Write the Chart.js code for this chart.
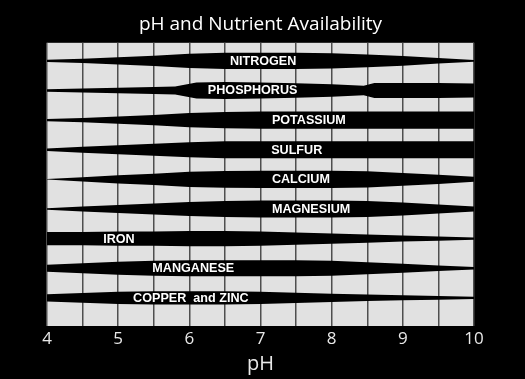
<!DOCTYPE html>
<html>
<head>
<meta charset="utf-8">
<script src="https://cdn.jsdelivr.net/npm/chart.js@4"></script>
<style>
  html, body { margin: 0; padding: 0; background: #000; }
  canvas { display: block; }
</style>
</head>
<body>
<canvas id="phChart" width="525" height="379"></canvas>
<script>
// pH grid (every half unit) and labelled ticks
const phSteps = [4, 4.5, 5, 5.5, 6, 6.5, 7, 7.5, 8, 8.5, 9, 9.5, 10];
const phLabels = [4, 5, 6, 7, 8, 9, 10];

// relative availability (1 = widest band)
const nitrogen   = [0.12, 0.24, 0.41, 0.59, 0.82, 0.94, 0.94, 0.94, 0.88, 0.74, 0.56, 0.32, 0.09];
const phosphorusPh = [4, 4.5, 5, 5.5, 5.8, 6.1, 6.5, 7, 7.5, 8, 8.45, 8.6, 9, 9.5, 10];
const phosphorus = [0.15, 0.24, 0.32, 0.41, 0.47, 0.94, 1.0, 0.94, 0.85, 0.74, 0.56, 0.88, 0.88, 0.88, 0.82];
const potassium  = [0.12, 0.26, 0.41, 0.59, 0.82, 0.94, 1, 1, 1, 1, 1, 1, 1];
const sulfur     = [0.14, 0.34, 0.53, 0.69, 0.88, 0.98, 1, 1, 1, 1, 1, 1, 1];
const calcium    = [0.03, 0.25, 0.47, 0.65, 0.88, 0.97, 1, 1, 1, 0.94, 0.74, 0.53, 0.29];
const magnesium  = [0.09, 0.29, 0.47, 0.65, 0.82, 0.94, 1, 1, 1, 0.94, 0.76, 0.53, 0.29];
const iron       = [0.76, 0.76, 0.82, 0.82, 0.88, 0.88, 0.82, 0.71, 0.59, 0.47, 0.35, 0.24, 0.12];
const manganese  = [0.41, 0.59, 0.76, 0.88, 0.94, 0.94, 0.94, 0.94, 0.88, 0.71, 0.53, 0.32, 0.15];
const copperZinc = [0.41, 0.56, 0.71, 0.76, 0.76, 0.76, 0.71, 0.59, 0.47, 0.38, 0.29, 0.21, 0.12];

const nutrientNames = ['NITROGEN', 'PHOSPHORUS', 'POTASSIUM', 'SULFUR', 'CALCIUM',
  'MAGNESIUM', 'IRON', 'MANGANESE', 'COPPER  and ZINC'];
// pH where each name starts
const labelPh = [6.57, 6.26, 7.16, 7.15, 7.16, 7.16, 4.79, 5.48, 5.21];

const bands = [
  { ph: phSteps, avail: nitrogen },
  { ph: phosphorusPh, avail: phosphorus },
  { ph: phSteps, avail: potassium },
  { ph: phSteps, avail: sulfur },
  { ph: phSteps, avail: calcium },
  { ph: phSteps, avail: magnesium },
  { ph: phSteps, avail: iron },
  { ph: phSteps, avail: manganese },
  { ph: phSteps, avail: copperZinc }
];

const BAND_MAX = 0.58; // widest band, in rows

const datasets = [];
bands.forEach((b, row) => {
  const common = { borderWidth: 0, borderColor: 'transparent', pointRadius: 0, tension: 0 };
  datasets.push(Object.assign({
    label: nutrientNames[row] + ' top',
    data: b.ph.map((p, i) => ({ x: p, y: row - b.avail[i] * BAND_MAX / 2 })),
    fill: false
  }, common));
  datasets.push(Object.assign({
    label: nutrientNames[row],
    data: b.ph.map((p, i) => ({ x: p, y: row + b.avail[i] * BAND_MAX / 2 })),
    fill: '-1',
    backgroundColor: '#000'
  }, common));
});

const backdrop = {
  id: 'backdrop',
  beforeDraw(chart) {
    const { ctx, chartArea: a } = chart;
    ctx.save();
    ctx.fillStyle = '#000';
    ctx.fillRect(0, 0, chart.width, chart.height);
    ctx.fillStyle = '#e1e1e1';
    ctx.fillRect(a.left, a.top, a.right - a.left, a.bottom - a.top);
    ctx.restore();
  }
};

const bandLabels = {
  id: 'bandLabels',
  afterDatasetsDraw(chart) {
    const { ctx, scales: { x, y } } = chart;
    ctx.save();
    ctx.fillStyle = '#fff';
    ctx.font = 'bold 12.6px "Liberation Sans", Arial, sans-serif';
    ctx.textAlign = 'left';
    ctx.textBaseline = 'middle';
    nutrientNames.forEach((name, row) => {
      ctx.fillText(name, x.getPixelForValue(labelPh[row]), y.getPixelForValue(row) + 0.5);
    });
    ctx.restore();
  }
};

new Chart(document.getElementById('phChart'), {
  type: 'line',
  data: { datasets },
  plugins: [backdrop, bandLabels],
  options: {
    responsive: false,
    devicePixelRatio: 1,
    animation: false,
    layout: { padding: { left: 47, right: 51, top: 2, bottom: 0 } },
    plugins: {
      legend: { display: false },
      tooltip: { enabled: false },
      title: {
        display: true,
        text: 'pH and Nutrient Availability',
        color: '#fff',
        font: { family: '"Open Sans", sans-serif', size: 19, weight: 'normal' },
        padding: { top: 11, bottom: 7 }
      }
    },
    scales: {
      x: {
        type: 'linear',
        min: 4,
        max: 10,
        afterFit(scale) { scale.height = 53; },
        afterBuildTicks(scale) { scale.ticks = phSteps.map(v => ({ value: v })); },
        ticks: {
          autoSkip: false,
          maxRotation: 0,
          padding: 3,
          color: '#e8e8e8',
          font: { family: '"Open Sans", sans-serif', size: 17 },
          callback: v => phLabels.includes(v) ? String(v) : ''
        },
        grid: { color: '#4e4e4e', lineWidth: 1.5, drawTicks: false },
        border: { display: false },
        title: {
          display: true,
          text: 'pH',
          color: '#e8e8e8',
          font: { family: '"Open Sans", sans-serif', size: 20 },
          padding: { top: 0, bottom: 3 }
        }
      },
      y: {
        type: 'linear',
        display: false,
        reverse: true,
        min: -0.61,
        max: 8.95
      }
    }
  }
});
</script>
</body>
</html>
